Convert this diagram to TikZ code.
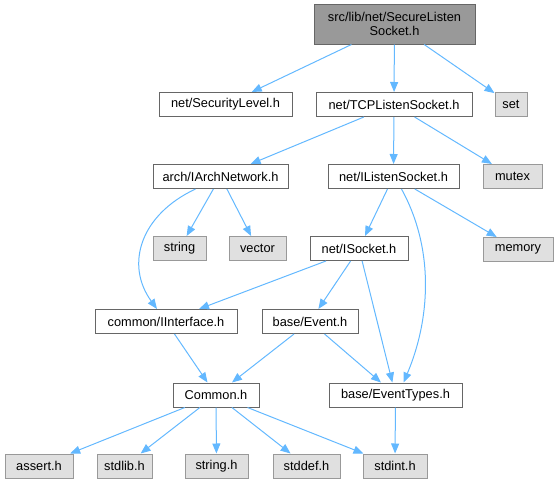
\documentclass[tikz,border=0pt]{standalone}
\usepackage{fontspec}
\setmainfont{Liberation Sans}
\usetikzlibrary{arrows.meta}

\begin{document}
\begin{tikzpicture}[x=1pt,y=-1pt,font=\fontsize{12.8}{14.2}\selectfont,
    hfile/.style={draw=incframe,fill=white,line width=1pt,inner sep=0pt,minimum height=24pt},
    sysfile/.style={hfile,draw=sysframe,fill=sysfill},
    incl/.style={draw=incedge,line width=1pt,-{Triangle[length=10pt,width=8pt]}}]
  \definecolor{incedge}{HTML}{63B8FF}
  \definecolor{incframe}{HTML}{666666}
  \definecolor{sysframe}{HTML}{999999}
  \definecolor{sysfill}{HTML}{E0E0E0}
  \definecolor{rootfill}{HTML}{999999}

  % the file itself
  \node[hfile,fill=rootfill,align=center,minimum width=161pt,minimum height=40pt]
        (root) at (394.5,24) {src/lib/net/SecureListen\\Socket.h};

  % project headers
  \foreach \name/\x/\y/\w/\lab in {
    seclvl/225.5/104.5/133/{net/SecurityLevel.h},
    tcplisten/394/104.5/156/{net/TCPListenSocket.h},
    archnet/220.5/176.5/135/{arch/IArchNetwork.h},
    ilisten/393.5/176.5/131/{net/IListenSocket.h},
    isocket/359/248.5/98/{net/ISocket.h},
    iiface/166/321.5/142/{common/IInterface.h},
    event/310/321.5/96/{base/Event.h},
    common/216/395/86/{Common.h},
    evtypes/395.5/395/133/{base/EventTypes.h}
  }{
    \node[hfile,minimum width=\w pt] (\name) at (\x,\y) {\lab};
  }

  % system headers
  \foreach \name/\x/\y/\w/\lab in {
    set/511/104.5/32/{set},
    mutex/512.5/176.5/59/{mutex},
    string/179.5/248.5/53/{string},
    vector/257.5/248.5/57/{vector},
    memory/518/249.5/70/{memory},
    assert/39/466/68/{assert.h},
    stdlib/124.5/466/55/{stdlib.h},
    stringh/216.5/466/63/{string.h},
    stddef/306.5/466/67/{stddef.h},
    stdint/395/466/64/{stdint.h}
  }{
    \node[sysfile,minimum width=\w pt] (\name) at (\x,\y) {\lab};
  }

  \foreach \a/\b in {root/seclvl,root/tcplisten,root/set,
      tcplisten/archnet,tcplisten/ilisten,tcplisten/mutex,
      archnet/string,archnet/vector,ilisten/isocket,ilisten/memory,
      isocket/iiface,isocket/event,isocket/evtypes,
      iiface/common,event/common,event/evtypes,
      common/assert,common/stdlib,common/stringh,common/stddef,common/stdint,
      evtypes/stdint}{
    \draw[incl] (\a) -- (\b);
  }

  % the two long ones bend round
  \draw[incl] ([xshift=-25pt]archnet.south) .. controls (140,215) and (125,265) .. ([xshift=-9pt]iiface.north);
  \draw[incl] ([xshift=8pt]ilisten.south) .. controls (435,250) and (430,320) .. ([xshift=8pt]evtypes.north);

  \path[use as bounding box] (0,0) rectangle (558,485);
\end{tikzpicture}
\end{document}
